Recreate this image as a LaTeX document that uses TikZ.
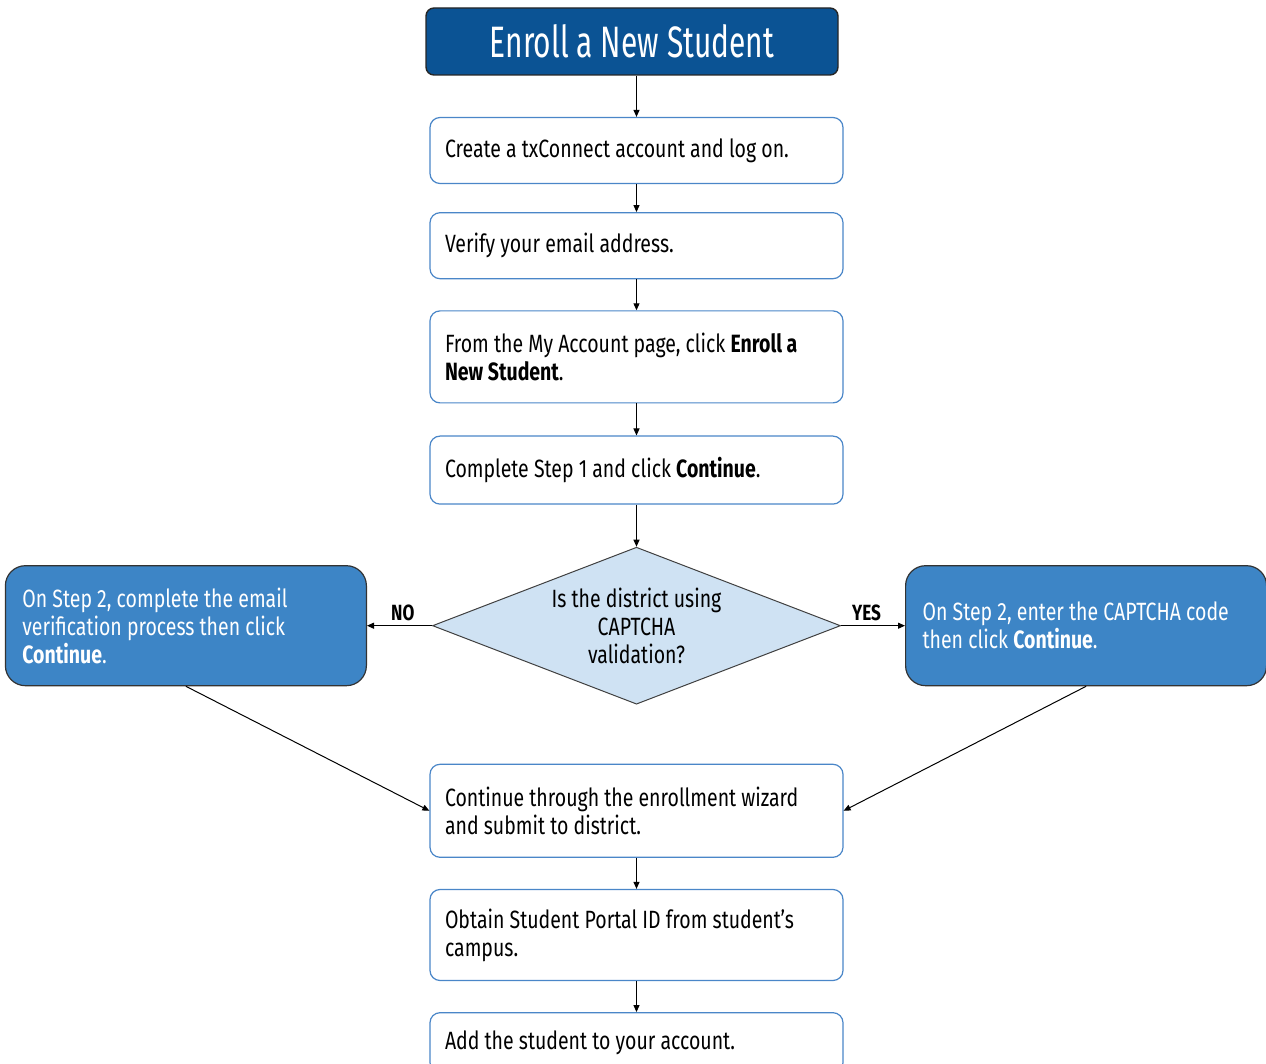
\documentclass[tikz,border=0pt]{standalone}
\usepackage{fontspec}
\setmainfont{Fira Sans}[FakeStretch=0.78]
\newfontfamily\titlefont{Fira Sans}[FakeStretch=0.68]
\usetikzlibrary{arrows.meta, positioning, shapes.geometric}

\definecolor{navy}{HTML}{0B5394}
\definecolor{midblue}{HTML}{3D85C6}
\definecolor{paleblue}{HTML}{CFE2F3}
\definecolor{edgeblue}{HTML}{4A86C8}

\begin{document}
\begin{tikzpicture}[
      x=0.5pt, y=-0.5pt, line width=0.5pt,
      titlebox/.style={draw=black!85, line width=0.7pt, rounded corners=4pt,
                       fill=navy, text=white, minimum width=206pt,
                       minimum height=33.5pt, inner sep=0pt,
                       font=\titlefont\fontsize{22}{24}\selectfont},
      stepbox/.style={draw=edgeblue, line width=0.6pt, rounded corners=5pt,
                      fill=white, align=flush left, text width=191.5pt,
                      minimum width=206.5pt, minimum height=33pt,
                      inner xsep=7.5pt, inner ysep=0pt,
                      font=\fontsize{12.5}{14}\selectfont},
      sidebox/.style={draw=black!80, line width=0.6pt, rounded corners=10pt,
                      fill=midblue, text=white, align=flush left, text width=163.5pt,
                      minimum width=180.5pt, minimum height=60pt,
                      inner xsep=8.5pt, inner ysep=0pt,
                      font=\fontsize{12.5}{14}\selectfont},
      decision/.style={diamond, draw=black!75, line width=0.5pt,
                       fill=paleblue, align=center, aspect=2.6, inner sep=0pt,
                       minimum width=204pt, minimum height=78.5pt,
                       font=\fontsize{12.5}{14}\selectfont},
      flag/.style={font=\bfseries\fontsize{11}{12}\selectfont, above=0pt,
                   inner sep=2pt},
      >={Triangle[length=3.5pt, width=3pt]}
    ]

    \useasboundingbox (0,0) rectangle (1266,1064);
    \clip (0,0) rectangle (1266,1064);

    \node[titlebox] (title) at (632,41.5) {Enroll a New Student};
    \node[stepbox] (create) at (636.5,150.5) {Create a txConnect account and log on.};
    \node[stepbox, below=14pt of create] (verify) {Verify your email address.};
    \node[stepbox, minimum height=46pt, below=15.5pt of verify] (myacct)
      {From the My Account page, click \textbf{Enroll a}\\\textbf{New Student}.};
    \node[stepbox, minimum height=34pt, below=16pt of myacct] (step1)
      {Complete Step 1 and click \textbf{Continue}.};

    \node[decision, below=21pt of step1] (captcha)
      {Is the district using\\CAPTCHA\\validation?};
    \node[sidebox, left=32.5pt of captcha] (email)
      {On Step 2, complete the email\\verification process then click\\\textbf{Continue}.};
    \node[sidebox, right=32pt of captcha] (code)
      {On Step 2, enter the CAPTCHA code\\then click \textbf{Continue}.};

    \node[stepbox, minimum height=46.5pt, below=29.5pt of captcha] (wizard)
      {Continue through the enrollment wizard\\and submit to district.};
    \node[stepbox, minimum height=45.5pt, below=15.5pt of wizard] (portal)
      {Obtain Student Portal ID from student’s\\campus.};
    \node[stepbox, minimum height=30pt, below=15.5pt of portal] (add)
      {Add the student to your account.};

    \draw[->] (title.south -| create) -- (create);
    \draw[->] (create) -- (verify);
    \draw[->] (verify) -- (myacct);
    \draw[->] (myacct) -- (step1);
    \draw[->] (step1)  -- (captcha);
    \draw[->] (captcha) -- node[flag, pos=0.45]{NO} (email);
    \draw[->] (captcha) -- node[flag, pos=0.4]{YES} (code);
    \draw[->] (email.south) -- (wizard.west);
    \draw[->] (code.south)  -- (wizard.east);
    \draw[->] (wizard) -- (portal);
    \draw[->] (portal) -- (add);
  \end{tikzpicture}
\end{document}
